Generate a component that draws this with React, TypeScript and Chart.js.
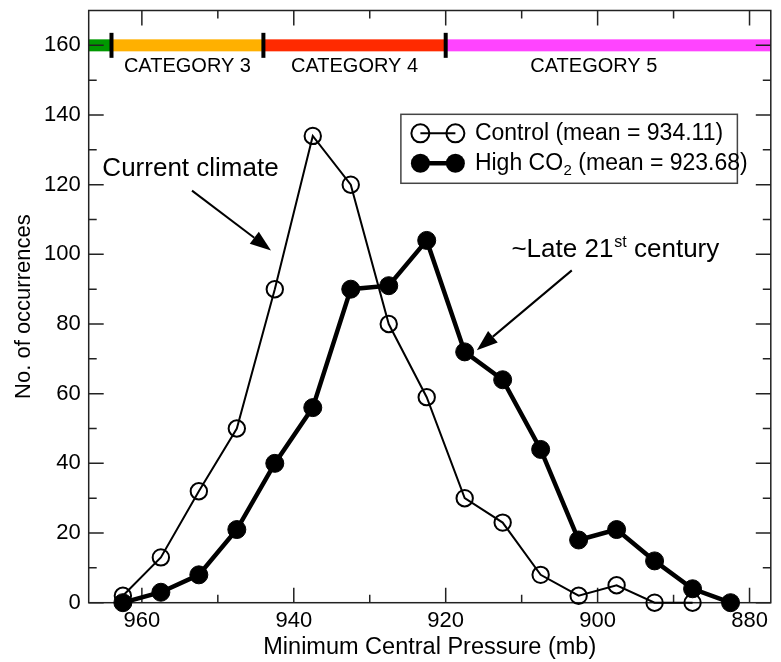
import React, { useEffect, useRef } from "react";
import { Chart, registerables } from "chart.js";

Chart.register(...registerables);

// ---------- data ----------
const PRESSURE_BINS = [962.5, 957.5, 952.5, 947.5, 942.5, 937.5, 932.5, 927.5, 922.5, 917.5, 912.5, 907.5, 902.5, 897.5, 892.5, 887.5, 882.5];
const CONTROL = [2, 13, 32, 50, 90, 134, 120, 80, 59, 30, 23, 8, 2, 5, 0, 0];
const HIGH_CO2 = [0, 3, 8, 21, 40, 56, 90, 91, 104, 72, 64, 44, 18, 21, 12, 4, 0];

const X_TICKS = [960, 940, 920, 900, 880];
const X_MINOR = [950, 930, 910, 890];
const Y_TICKS = [0, 20, 40, 60, 80, 100, 120, 140, 160];
const Y_MINOR = [10, 30, 50, 70, 90, 110, 130, 150];
const X_MIN = 877.2;
const X_MAX = 967;
const Y_MIN = 0;
const Y_MAX = 170;

const CATEGORY_BOUNDS = [964, 944, 920];
const CATEGORY_NAMES = ["CATEGORY 3", "CATEGORY 4", "CATEGORY 5"];
const CATEGORY_LABEL_X = [954, 932, 900.5];
const CATEGORY_COLORS = ["#009900", "#FFB000", "#FF2A00", "#FF44FF"];
const CATEGORY_BAR_Y = 160;
const CATEGORY_LABEL_Y = 153.9;

const LEGEND_LABELS = ["Control (mean = 934.11)", "High CO", "2", " (mean = 923.68)"];
const LEGEND_BOX = { x0: 925.9, y0: 140.2, x1: 881.6, y1: 120.4 };

const CURRENT_TEXT = "Current climate";
const CURRENT_POS = { x: 965.2, y: 122.4 };
const CURRENT_ARROW = { from: [953.4, 118.3], to: [943.0, 101.1] };
const LATE_TEXT = ["~Late 21", "st", " century"];
const LATE_POS = { x: 911.35, y: 99.2 };
const LATE_ARROW = { from: [903.4, 95.4], to: [915.9, 72.5] };

const FONT = '"Liberation Sans", Arial, Helvetica, sans-serif';

function drawArrow(ctx: CanvasRenderingContext2D, x0: number, y0: number, x1: number, y1: number) {
  const ang = Math.atan2(y1 - y0, x1 - x0);
  const len = 21;
  const hw = 7.5;
  const bx = x1 - len * Math.cos(ang);
  const by = y1 - len * Math.sin(ang);
  ctx.strokeStyle = "#000";
  ctx.lineWidth = 2;
  ctx.beginPath();
  ctx.moveTo(x0, y0);
  ctx.lineTo(bx, by);
  ctx.stroke();
  ctx.fillStyle = "#000";
  ctx.beginPath();
  ctx.moveTo(x1, y1);
  ctx.lineTo(bx + hw * Math.sin(ang), by - hw * Math.cos(ang));
  ctx.lineTo(bx - hw * Math.sin(ang), by + hw * Math.cos(ang));
  ctx.closePath();
  ctx.fill();
}

const decorPlugin = {
  id: "decor",
  beforeDatasetsDraw(chart: any) {
    const { ctx, chartArea: ca, scales } = chart;
    const x = scales.x;
    const y = scales.y;
    ctx.save();
    // category bar
    const edges = [X_MAX, ...CATEGORY_BOUNDS, X_MIN];
    const by = y.getPixelForValue(CATEGORY_BAR_Y);
    for (let i = 0; i < edges.length - 1; i++) {
      const a = x.getPixelForValue(edges[i]);
      const b = x.getPixelForValue(edges[i + 1]);
      ctx.fillStyle = CATEGORY_COLORS[i];
      ctx.fillRect(Math.min(a, b), by - 6, Math.abs(b - a), 12);
    }
    ctx.fillStyle = "#000";
    CATEGORY_BOUNDS.forEach((v) => {
      const px = x.getPixelForValue(v);
      ctx.fillRect(px - 2, by - 12.5, 4, 25);
    });
    ctx.font = `20px ${FONT}`;
    ctx.textAlign = "center";
    ctx.textBaseline = "middle";
    ctx.fillStyle = "#000";
    CATEGORY_NAMES.forEach((n, i) => {
      ctx.fillText(n, x.getPixelForValue(CATEGORY_LABEL_X[i]), y.getPixelForValue(CATEGORY_LABEL_Y));
    });

    // frame
    ctx.strokeStyle = "#222";
    ctx.lineWidth = 1.5;
    ctx.strokeRect(ca.left, ca.top, ca.right - ca.left, ca.bottom - ca.top);

    // inward ticks
    const tick = (vals: number[], len: number) => {
      vals.forEach((v) => {
        const px = x.getPixelForValue(v);
        ctx.beginPath();
        ctx.moveTo(px, ca.bottom);
        ctx.lineTo(px, ca.bottom - len);
        ctx.moveTo(px, ca.top);
        ctx.lineTo(px, ca.top + len);
        ctx.stroke();
      });
    };
    const ytick = (vals: number[], len: number) => {
      vals.forEach((v) => {
        const py = y.getPixelForValue(v);
        ctx.beginPath();
        ctx.moveTo(ca.left, py);
        ctx.lineTo(ca.left + len, py);
        ctx.moveTo(ca.right, py);
        ctx.lineTo(ca.right - len, py);
        ctx.stroke();
      });
    };
    tick(X_TICKS, 15);
    tick(X_MINOR, 8);
    ytick(Y_TICKS, 15);
    ytick(Y_MINOR, 8);
    ctx.restore();
  },
  afterDatasetsDraw(chart: any) {
    const { ctx, scales } = chart;
    const x = scales.x;
    const y = scales.y;
    ctx.save();
    ctx.fillStyle = "#000";
    ctx.textAlign = "left";
    ctx.textBaseline = "alphabetic";

    // Current climate
    ctx.font = `26px ${FONT}`;
    ctx.fillText(CURRENT_TEXT, x.getPixelForValue(CURRENT_POS.x), y.getPixelForValue(CURRENT_POS.y));
    drawArrow(
      ctx,
      x.getPixelForValue(CURRENT_ARROW.from[0]), y.getPixelForValue(CURRENT_ARROW.from[1]),
      x.getPixelForValue(CURRENT_ARROW.to[0]), y.getPixelForValue(CURRENT_ARROW.to[1])
    );

    // Late 21st century
    let tx = x.getPixelForValue(LATE_POS.x);
    const ty = y.getPixelForValue(LATE_POS.y);
    ctx.font = `26px ${FONT}`;
    ctx.fillText(LATE_TEXT[0], tx, ty);
    tx += ctx.measureText(LATE_TEXT[0]).width;
    ctx.font = `16px ${FONT}`;
    ctx.fillText(LATE_TEXT[1], tx + 1, ty - 10);
    tx += ctx.measureText(LATE_TEXT[1]).width + 1;
    ctx.font = `26px ${FONT}`;
    ctx.fillText(LATE_TEXT[2], tx, ty);
    drawArrow(
      ctx,
      x.getPixelForValue(LATE_ARROW.from[0]), y.getPixelForValue(LATE_ARROW.from[1]),
      x.getPixelForValue(LATE_ARROW.to[0]), y.getPixelForValue(LATE_ARROW.to[1])
    );

    // legend
    const lx0 = x.getPixelForValue(LEGEND_BOX.x0);
    const ly0 = y.getPixelForValue(LEGEND_BOX.y0);
    const lx1 = x.getPixelForValue(LEGEND_BOX.x1);
    const ly1 = y.getPixelForValue(LEGEND_BOX.y1);
    ctx.fillStyle = "#fff";
    ctx.fillRect(lx0, ly0, lx1 - lx0, ly1 - ly0);
    ctx.strokeStyle = "#444";
    ctx.lineWidth = 1.5;
    ctx.strokeRect(lx0, ly0, lx1 - lx0, ly1 - ly0);

    const r1y = ly0 + 19;
    const r2y = ly0 + 49;
    const m1 = lx0 + 19.5;
    const m2 = lx0 + 54.5;
    // control row
    ctx.strokeStyle = "#000";
    ctx.lineWidth = 2;
    ctx.beginPath();
    ctx.moveTo(m1, r1y);
    ctx.lineTo(m2, r1y);
    ctx.stroke();
    [m1, m2].forEach((mx) => {
      ctx.beginPath();
      ctx.arc(mx, r1y, 9, 0, Math.PI * 2);
      ctx.stroke();
    });
    // high co2 row
    ctx.lineWidth = 4.5;
    ctx.beginPath();
    ctx.moveTo(m1, r2y);
    ctx.lineTo(m2, r2y);
    ctx.stroke();
    ctx.fillStyle = "#000";
    [m1, m2].forEach((mx) => {
      ctx.beginPath();
      ctx.arc(mx, r2y, 9.5, 0, Math.PI * 2);
      ctx.fill();
    });
    const textX = lx0 + 74;
    ctx.textBaseline = "middle";
    ctx.font = `23px ${FONT}`;
    ctx.fillText(LEGEND_LABELS[0], textX, r1y);
    let t2 = textX;
    ctx.fillText(LEGEND_LABELS[1], t2, r2y);
    t2 += ctx.measureText(LEGEND_LABELS[1]).width;
    ctx.font = `15px ${FONT}`;
    ctx.fillText(LEGEND_LABELS[2], t2 + 0.5, r2y + 8);
    t2 += ctx.measureText(LEGEND_LABELS[2]).width + 0.5;
    ctx.font = `23px ${FONT}`;
    ctx.fillText(LEGEND_LABELS[3], t2, r2y);
    ctx.restore();
  },
};

export default function App() {
  const ref = useRef<HTMLCanvasElement>(null);
  useEffect(() => {
    if (!ref.current) return;
    const chart = new Chart(ref.current, {
      type: "line",
      data: {
        datasets: [
          {
            label: "High CO2",
            data: HIGH_CO2.map((v, i) => ({ x: PRESSURE_BINS[i], y: v })),
            borderColor: "#000",
            backgroundColor: "#000",
            borderWidth: 4.5,
            pointRadius: 9,
            pointBorderWidth: 1,
            pointBackgroundColor: "#000",
            pointBorderColor: "#000",
            tension: 0,
            clip: false as any,
            order: 0,
          },
          {
            label: "Control",
            data: CONTROL.map((v, i) => ({ x: PRESSURE_BINS[i], y: v })),
            borderColor: "#000",
            backgroundColor: "rgba(0,0,0,0)",
            borderWidth: 2,
            pointRadius: 8.2,
            pointBorderWidth: 2,
            pointBackgroundColor: "rgba(0,0,0,0)",
            pointBorderColor: "#000",
            tension: 0,
            clip: false as any,
            order: 1,
          },
        ],
      },
      options: {
        animation: false,
        responsive: false,
        devicePixelRatio: 1,
        layout: { padding: { left: 0, right: 1, top: 10.5, bottom: 0 } },
        plugins: { legend: { display: false }, tooltip: { enabled: false } },
        scales: {
          x: {
            type: "linear",
            reverse: true,
            min: X_MIN,
            max: X_MAX,
            afterBuildTicks: (s: any) => {
              s.ticks = X_TICKS.map((v) => ({ value: v }));
            },
            afterFit: (s: any) => {
              s.height = 59.3;
              s.paddingLeft = 0;
              s.paddingRight = 0;
            },
            grid: { display: false, drawTicks: false },
            border: { display: false },
            ticks: { color: "#000", font: { family: FONT, size: 22 }, padding: 5, maxRotation: 0, autoSkip: false },
            title: {
              display: true,
              text: "Minimum Central Pressure (mb)",
              color: "#000",
              font: { family: FONT, size: 23.5 },
              padding: { top: 0, bottom: 0 },
            },
          },
          y: {
            type: "linear",
            min: Y_MIN,
            max: Y_MAX,
            afterBuildTicks: (s: any) => {
              s.ticks = Y_TICKS.map((v) => ({ value: v }));
            },
            afterFit: (s: any) => {
              s.width = 88.7;
              s.paddingTop = 0;
              s.paddingBottom = 0;
            },
            grid: { display: false, drawTicks: false },
            border: { display: false },
            ticks: { color: "#000", font: { family: FONT, size: 22 }, padding: 8, autoSkip: false },
            title: {
              display: true,
              text: "No. of occurrences",
              color: "#000",
              font: { family: FONT, size: 22 },
              padding: { top: 11, bottom: 0 },
            },
          },
        },
      },
      plugins: [decorPlugin],
    });
    return () => chart.destroy();
  }, []);
  return (
    <div style={{ position: "absolute", left: 0, top: 0, width: 781, height: 662, background: "#fff" }}>
      <canvas ref={ref} width={781} height={662} style={{ display: "block" }} />
    </div>
  );
}
